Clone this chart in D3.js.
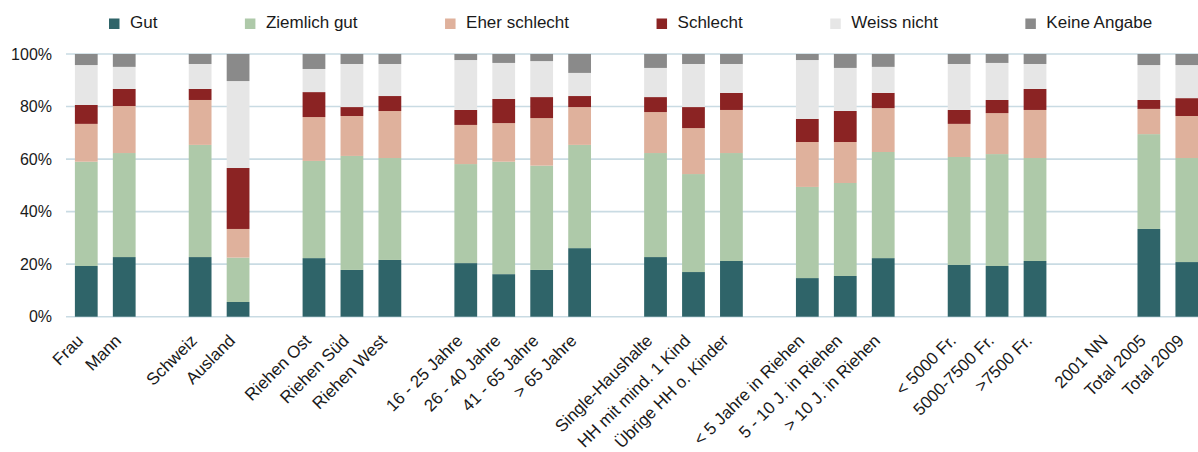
<!DOCTYPE html>
<html>
<head>
<meta charset="utf-8">
<script src="https://cdn.jsdelivr.net/npm/d3@7/dist/d3.min.js"></script>
<style>
  html, body { margin: 0; padding: 0; background: #fff; }
  svg { display: block; font-family: "Liberation Sans", Arial, sans-serif; }
</style>
</head>
<body>
<svg id="chart" width="1198" height="452"></svg>
<script>
// ---- Data ----
const categories = ["Frau", "Mann", "", "Schweiz", "Ausland", "", "Riehen Ost", "Riehen Süd", "Riehen West", "",
  "16 - 25 Jahre", "26 - 40 Jahre", "41 - 65 Jahre", "> 65 Jahre", "",
  "Single-Haushalte", "HH mit mind. 1 Kind", "Übrige HH o. Kinder", "",
  "< 5 Jahre in Riehen", "5 - 10 J. in Riehen", "> 10 J. in Riehen", "",
  "< 5000 Fr.", "5000-7500 Fr.", ">7500 Fr.", "",
  "2001 NN", "Total 2005", "Total 2009"];

const seriesNames = ["Gut", "Ziemlich gut", "Eher schlecht", "Schlecht", "Weiss nicht", "Keine Angabe"];

const gut          = [19.3, 22.7, null, 22.7,  5.6, null, 22.3, 17.8, 21.6, null, 20.4, 16.2, 17.8, 26.1, null, 22.7, 17.0, 21.2, null, 14.7, 15.5, 22.3, null, 19.7, 19.3, 21.2, null, null, 33.4, 20.8];
const ziemlichGut  = [39.7, 39.6, null, 42.7, 16.9, null, 37.0, 43.4, 38.8, null, 37.7, 42.8, 39.7, 39.3, null, 39.6, 37.3, 41.1, null, 34.7, 35.4, 40.4, null, 41.1, 42.6, 39.2, null, null, 36.1, 39.6];
const eherSchlecht = [14.4, 17.9, null, 17.1, 10.9, null, 16.7, 15.2, 17.9, null, 14.9, 14.7, 18.1, 14.4, null, 15.6, 17.5, 16.4, null, 17.1, 15.6, 16.7, null, 12.6, 15.6, 18.3, null, null,  9.6, 16.0];
const schlecht     = [ 7.2,  6.5, null,  4.2, 23.2, null,  9.5,  3.4,  5.7, null,  5.7,  9.2,  8.0,  4.2, null,  5.7,  8.0,  6.5, null,  8.8, 11.8,  5.8, null,  5.3,  5.0,  8.0, null, null,  3.4,  6.8];
const weissNicht   = [15.2,  8.4, null,  9.5, 33.1, null,  8.8, 16.4, 12.2, null, 19.0, 13.7, 13.7,  8.8, null, 11.1, 16.4, 11.0, null, 22.4, 16.4,  9.9, null, 17.5, 14.1,  9.5, null, null, 13.3, 12.6];
const keineAngabe  = [ 4.2,  4.9, null,  3.8, 10.3, null,  5.7,  3.8,  3.8, null,  2.3,  3.4,  2.7,  7.2, null,  5.3,  3.8,  3.8, null,  2.3,  5.3,  4.9, null,  3.8,  3.4,  3.8, null, null,  4.2,  4.2];

const yTicks = [0, 20, 40, 60, 80, 100];
const colors = ["#2f6469", "#aec9a9", "#dfb19c", "#8b2323", "#e6e6e6", "#8a8a8a"];

// ---- Build table ----
const seriesValues = [gut, ziemlichGut, eherSchlecht, schlecht, weissNicht, keineAngabe];
const rows = categories.map((c, i) => {
  const r = { idx: i, name: c, empty: gut[i] === null };
  seriesNames.forEach((s, k) => { r[s] = seriesValues[k][i] === null ? 0 : seriesValues[k][i]; });
  return r;
});

const svg = d3.select("#chart");
const W = 1198, H = 452;
const plot = { left: 67.3, top: 54, bottom: 316.7, step: 37.95 };

const x = d3.scaleBand()
  .domain(d3.range(categories.length))
  .range([plot.left, plot.left + plot.step * categories.length])
  .paddingInner(0.4)
  .paddingOuter(0.2);

const y = d3.scaleLinear().domain([0, 100]).range([plot.bottom, plot.top]);

// gridlines
svg.append("g").selectAll("line").data(yTicks).join("line")
  .attr("x1", 66).attr("x2", W)
  .attr("y1", d => y(d)).attr("y2", d => y(d))
  .attr("stroke", "#c9dbe3").attr("stroke-width", 1.6);

// y labels
svg.append("g").selectAll("text").data(yTicks).join("text")
  .attr("x", 52).attr("y", d => y(d))
  .attr("dy", "0.36em")
  .attr("text-anchor", "end")
  .attr("font-size", 16)
  .attr("fill", "#1a1a1a")
  .text(d => d + "%");

// bars
const stack = d3.stack().keys(seriesNames);
const stacked = stack(rows);
svg.append("g").selectAll("g").data(stacked).join("g")
  .attr("fill", (d, i) => colors[i])
  .selectAll("rect").data(d => d.filter(p => !p.data.empty)).join("rect")
  .attr("x", d => x(d.data.idx))
  .attr("width", x.bandwidth())
  .attr("y", d => y(d[1]))
  .attr("height", d => Math.max(0, y(d[0]) - y(d[1])));

// x labels
svg.append("g").selectAll("text").data(rows.filter(r => r.name !== "")).join("text")
  .attr("transform", d => `translate(${x(d.idx) + x.bandwidth() / 2 - 2},${plot.bottom + 25}) rotate(-45)`)
  .attr("text-anchor", "end")
  .attr("font-size", 17)
  .attr("fill", "#1a1a1a")
  .text(d => d.name);

// legend
const legend = svg.append("g");
let lx = 109;
seriesNames.forEach((s, i) => {
  const g = legend.append("g").attr("transform", `translate(${lx},0)`);
  g.append("rect").attr("x", 0).attr("y", 18.5).attr("width", 10.5).attr("height", 10.5).attr("fill", colors[i]);
  const t = g.append("text").attr("x", 21).attr("y", 28).attr("font-size", 17).attr("fill", "#1a1a1a").text(s);
  const w = t.node().getComputedTextLength();
  lx += 21 + w + 87.5;
});
</script>
</body>
</html>
